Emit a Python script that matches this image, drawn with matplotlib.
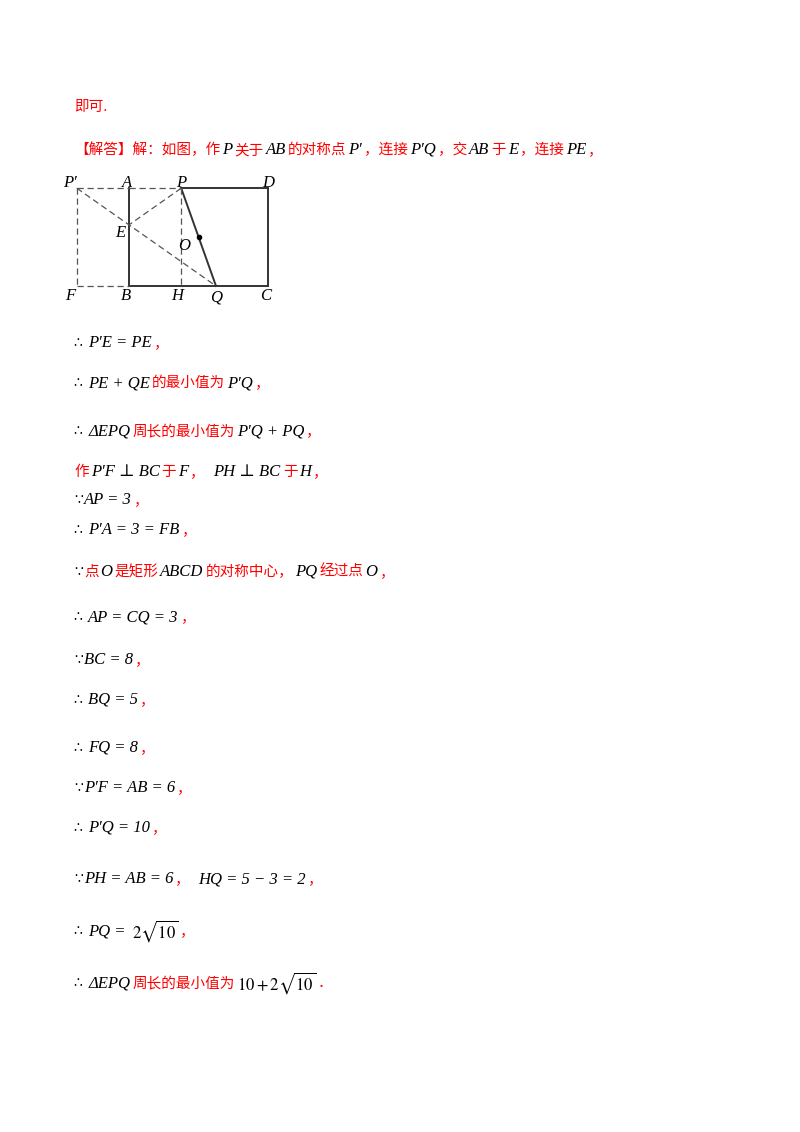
import matplotlib
matplotlib.use('Agg')
import matplotlib.pyplot as plt

plt.rcParams['mathtext.fontset'] = 'stix'
RED = '#ff0000'
MATH = dict(family=['Liberation Serif', 'DejaVu Serif'], style='italic', color='black', size=12)
SYM = dict(family=['DejaVu Sans'], color='black', size=10)
CJK = dict(family=['Noto Sans CJK SC', 'DejaVu Sans'], color=RED, size=10.5)

# geometry (units)
pts = {'A': (0, 6), 'B': (0, 0), 'C': (8, 0), 'D': (8, 6), 'P': (3, 6), 'Q': (5, 0),
       "P'": (-3, 6), 'F': (-3, 0), 'H': (3, 0), 'E': (0, 3.75), 'O': (4, 3)}
solid = [('A', 'B'), ('B', 'C'), ('C', 'D'), ('P', 'D'), ('P', 'Q')]
dashed = [("P'", 'A'), ('A', 'P'), ("P'", 'F'), ('F', 'B'), ('P', 'H'), ("P'", 'Q'), ('P', 'E')]
labels = {"P'": (-14, -5), 'A': (-7, -5), 'P': (-5, -5), 'D': (-6, -5), 'E': (-14, 8),
          'O': (-20, 9), 'F': (-12, 10), 'B': (-8, 10), 'H': (-10, 10), 'Q': (-6, 12), 'C': (-8, 10)}

lines = [
    (107, [("即可.", 'c')]),
    (150, [("【解答】解：如图，作", 'c'), ("P", 'm'), ("关于", 'c'), ("AB", 'm'), ("的对称点", 'c'), ("P′", 'm'),
           ("，连接", 'c'), ("P′Q", 'm'), ("，交", 'c'), ("AB", 'm'), ("于", 'c'), ("E", 'm'), ("，连接", 'c'), ("PE", 'm'), ("，", 'c')]),
    (343, [("∴ ", 's'), ("P′E = PE", 'm'), ("，", 'c')]),
    (383, [("∴ ", 's'), ("PE + QE", 'm'), ("的最小值为", 'c'), ("P′Q", 'm'), ("，", 'c')]),
    (431, [("∴ ", 's'), ("ΔEPQ", 'm'), ("周长的最小值为", 'c'), ("P′Q + PQ", 'm'), ("，", 'c')]),
    (472, [("作", 'c'), ("P′F ⊥ BC", 'm'), ("于", 'c'), ("F", 'm'), ("，  ", 'c'), ("PH ⊥ BC", 'm'), ("于", 'c'), ("H", 'm'), ("，", 'c')]),
    (500, [("∵", 's'), ("AP = 3", 'm'), ("，", 'c')]),
    (530, [("∴ ", 's'), ("P′A = 3 = FB", 'm'), ("，", 'c')]),
    (572, [("∵", 's'), ("点", 'c'), ("O", 'm'), ("是矩形", 'c'), ("ABCD", 'm'), ("的对称中心，", 'c'), ("PQ", 'm'), ("经过点", 'c'), ("O", 'm'), ("，", 'c')]),
    (617, [("∴ ", 's'), ("AP = CQ = 3", 'm'), ("，", 'c')]),
    (660, [("∵", 's'), ("BC = 8", 'm'), ("，", 'c')]),
    (700, [("∴ ", 's'), ("BQ = 5", 'm'), ("，", 'c')]),
    (748, [("∴ ", 's'), ("FQ = 8", 'm'), ("，", 'c')]),
    (788, [("∵", 's'), ("P′F = AB = 6", 'm'), ("，", 'c')]),
    (828, [("∴ ", 's'), ("P′Q = 10", 'm'), ("，", 'c')]),
    (879, [("∵", 's'), ("PH = AB = 6", 'm'), ("，  ", 'c'), ("HQ = 5 − 3 = 2", 'm'), ("，", 'c')]),
    (931, [("∴ ", 's'), ("PQ = ", 'm'), (r"$2\sqrt{10}$", 'r'), ("，", 'c')]),
    (983, [("∴ ", 's'), ("ΔEPQ", 'm'), ("周长的最小值为", 'c'), (r"$10+2\sqrt{10}$", 'r'), ("．", 'c')]),
]

fig = plt.figure(figsize=(8, 11.32), dpi=100)
ax = fig.add_axes([0, 0, 1, 1])
ax.set_xlim(0, 800); ax.set_ylim(1132, 0); ax.axis('off')
r = fig.canvas.get_renderer()
inv = ax.transData.inverted()

def seg_style(k):
    if k == 'm': return MATH
    if k == 's': return SYM
    if k == 'c': return CJK
    return dict(color='black', size=12)

for y, segs in lines:
    x = 74
    prev = None
    for t, k in segs:
        if prev is not None and prev != k and k != 's' and prev != 's':
            x += 1
        tx = ax.text(x, y, t, va='center', ha='left', **seg_style(k))
        bb = tx.get_window_extent(renderer=r)
        x0 = inv.transform((bb.x0, bb.y0))[0]; x1 = inv.transform((bb.x1, bb.y0))[0]
        x += (x1 - x0) + 1
        prev = k

# diagram
ox, oy, sx, sy = 129, 286, 17.4, 16.3
def px(n):
    gx, gy = pts[n]
    return ox + gx * sx, oy - gy * sy
for a, b in solid:
    (x1, y1), (x2, y2) = px(a), px(b)
    ax.plot([x1, x2], [y1, y2], color='#333', lw=1.4)
for a, b in dashed:
    (x1, y1), (x2, y2) = px(a), px(b)
    ax.plot([x1, x2], [y1, y2], color='#555', lw=0.9, ls=(0, (5, 3)))
ox_, oy_ = px('O')
ax.plot([ox_], [oy_], 'o', color='black', ms=3)
for n, (dx, dy) in labels.items():
    x, y = px(n)
    ax.text(x + dx, y + dy, n.replace("'", "′"), va='center', ha='left', **MATH)

fig.savefig('out.png', dpi=100)
